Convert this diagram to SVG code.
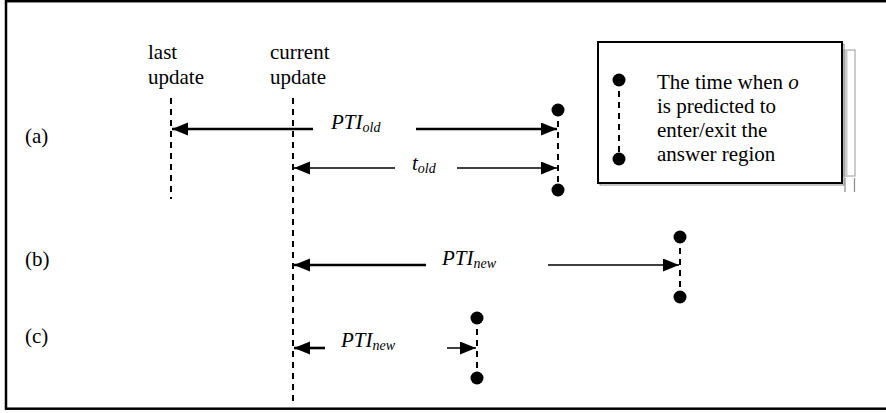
<svg xmlns="http://www.w3.org/2000/svg" width="886" height="413" viewBox="0 0 886 413">
<style>
  text { font-family: "Liberation Serif", "Times New Roman", serif; font-size: 21px; fill: #000; }
  .it { font-style: italic; }
  .sub { font-style: italic; font-size: 14px; }
  .dash { stroke: #000; stroke-width: 2; stroke-dasharray: 6 5; fill: none; }
  .thick { stroke: #000; stroke-width: 2.6; fill: none; marker-end: url(#ah); }
  .thin { stroke: #000; stroke-width: 1.5; fill: none; marker-end: url(#ah); }
  .dot { fill: #000; }
</style>
<defs>
  <marker id="ah" markerUnits="userSpaceOnUse" markerWidth="17" markerHeight="14" refX="16" refY="6.5" orient="auto">
    <path d="M0,0 L16,6.5 L0,13 z" fill="#000"/>
  </marker>
</defs>
<rect x="6" y="1.2" width="900" height="407.5" fill="#fff" stroke="#000" stroke-width="2.5"/>
<g id="artifact">
  <rect x="844" y="50" width="11" height="126" fill="#fff" stroke="#999" stroke-width="1"/>
  <rect x="844.5" y="50.5" width="3" height="125" fill="#c8c8c8"/>
  <line x1="845" y1="178" x2="845" y2="192" stroke="#888" stroke-width="1.2"/>
  <line x1="854.5" y1="178" x2="854.5" y2="192" stroke="#888" stroke-width="1.2"/>
</g>
<g id="timelines">
  <g id="last-update">
    <text x="148" y="59">last</text>
    <text x="148" y="84">update</text>
    <line class="dash" x1="171" y1="98" x2="171" y2="199"/>
  </g>
  <g id="current-update">
    <text x="270" y="59">current</text>
    <text x="270" y="84">update</text>
    <line class="dash" x1="293" y1="98" x2="293" y2="401"/>
  </g>
</g>
<g id="row-labels">
  <text x="25" y="143">(a)</text>
  <text x="25" y="266">(b)</text>
  <text x="25" y="343">(c)</text>
</g>
<g id="intervals">
  <g id="interval-a">
    <line class="dash" x1="558" y1="110" x2="558" y2="190"/>
    <circle class="dot" cx="558" cy="110" r="6.5"/>
    <circle class="dot" cx="558" cy="190" r="6.5"/>
  </g>
  <g id="interval-b">
    <line class="dash" x1="680" y1="237" x2="680" y2="297"/>
    <circle class="dot" cx="680" cy="237" r="6.5"/>
    <circle class="dot" cx="680" cy="297" r="6.5"/>
  </g>
  <g id="interval-c">
    <line class="dash" x1="477" y1="318" x2="477" y2="378"/>
    <circle class="dot" cx="477" cy="318" r="6.5"/>
    <circle class="dot" cx="477" cy="378" r="6.5"/>
  </g>
</g>
<g id="connectors">
  <line class="thick" x1="313" y1="129" x2="172" y2="129"/>
  <line class="thick" x1="416" y1="129" x2="557" y2="129"/>
  <text class="it" x="331" y="129">PTI<tspan class="sub" dy="3">old</tspan></text>
  <line class="thin" x1="395" y1="168" x2="294" y2="168"/>
  <line class="thin" x1="457" y1="168" x2="557" y2="168"/>
  <text class="it" x="412" y="170">t<tspan class="sub" dy="3">old</tspan></text>
  <line class="thick" x1="426" y1="265" x2="294" y2="265"/>
  <line class="thin" x1="548" y1="265" x2="679" y2="265"/>
  <text class="it" x="442" y="265">PTI<tspan class="sub" dy="3">new</tspan></text>
  <line class="thick" x1="325" y1="348" x2="294" y2="348"/>
  <line class="thin" x1="447" y1="348" x2="476" y2="348"/>
  <text class="it" x="341" y="347">PTI<tspan class="sub" dy="3">new</tspan></text>
</g>
<g id="legend">
  <rect x="600" y="44" width="244" height="141" fill="none" stroke="#888" stroke-width="1"/>
  <rect x="598" y="42" width="244" height="141" fill="#fff" stroke="#000" stroke-width="2"/>
  <line class="dash" x1="619" y1="80" x2="619" y2="159"/>
  <circle class="dot" cx="619" cy="80" r="6.5"/>
  <circle class="dot" cx="619" cy="159" r="6.5"/>
  <text x="657" y="89">The time when <tspan class="it">o</tspan></text>
  <text x="657" y="113">is predicted to</text>
  <text x="657" y="137">enter/exit the</text>
  <text x="657" y="161">answer region</text>
</g>
</svg>
